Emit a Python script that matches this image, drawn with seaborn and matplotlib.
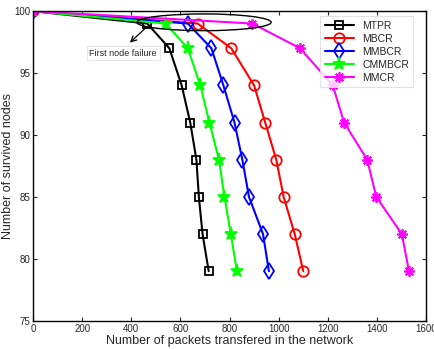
import matplotlib
matplotlib.use("Agg")
import matplotlib.pyplot as plt
from matplotlib.patches import Ellipse
import seaborn as sns
import pandas as pd

survived = [100, 99, 97, 94, 91, 88, 85, 82, 79]
mtpr = [0, 465, 555, 605, 640, 665, 675, 690, 715]
mbcr = [0, 670, 807, 900, 945, 990, 1020, 1065, 1100]
mmbcr = [0, 630, 726, 775, 820, 852, 879, 936, 960]
cmmbcr = [0, 540, 630, 681, 718, 757, 779, 805, 830]
mmcr = [0, 893, 1087, 1220, 1266, 1360, 1397, 1501, 1530]
series_names = ["MTPR", "MBCR", "MMBCR", "CMMBCR", "MMCR"]
series_vals = [mtpr, mbcr, mmbcr, cmmbcr, mmcr]
x_ticks = [0, 200, 400, 600, 800, 1000, 1200, 1400, 1600]
y_ticks = [75, 80, 85, 90, 95, 100]

sns.set_style("ticks")
plt.rcParams['font.family'] = ['Liberation Sans', 'DejaVu Sans']

fig = plt.figure(figsize=(4.34, 3.49), dpi=100)
ax = fig.add_axes([0.076, 0.081, 0.906, 0.887])

styles = {
    "MTPR": dict(color="black", marker="s", mfc="none", ms=5.5),
    "MBCR": dict(color="red", marker="o", mfc="none", ms=7.5),
    "MMBCR": dict(color="blue", marker="d", mfc="none", ms=8),
    "CMMBCR": dict(color="#00ff00", marker="*", mfc="#00ff00", ms=9.5),
    "MMCR": dict(color="magenta", marker=(8, 2, 0), mfc="none", ms=7.5),
}

for name, vals in zip(series_names, series_vals):
    df = pd.DataFrame({"x": vals, "y": survived})
    st = styles[name]
    sns.lineplot(data=df, x="x", y="y", ax=ax, sort=False, color=st["color"],
                 marker=st["marker"], markersize=st["ms"], markerfacecolor=st["mfc"],
                 markeredgecolor=st["color"], markeredgewidth=1.3, linewidth=1.5,
                 label=name)

ax.set_xlim(0, 1600)
ax.set_ylim(75, 100)
ax.set_xticks(x_ticks)
ax.set_yticks(y_ticks)
ax.tick_params(direction="in", top=True, right=True, labelsize=7, length=3, width=0.8, pad=2)
for sp in ax.spines.values():
    sp.set_visible(True)
    sp.set_linewidth(1.0)
    sp.set_color("black")
ax.set_xlabel("Number of packets transfered in the network", fontsize=9, labelpad=1)
ax.set_ylabel("Number of survived nodes", fontsize=9, labelpad=0)

ell = Ellipse((696, 99.1), 546, 1.35, fill=False, edgecolor="black", linewidth=1.0, zorder=5)
ax.add_patch(ell)
ax.annotate("", xy=(386, 97.3), xytext=(472, 98.9),
            arrowprops=dict(arrowstyle="->", color="black", lw=0.9))
ax.text(367, 96.6, "First node failure", fontsize=6.5, ha="center", va="center",
        bbox=dict(boxstyle="square,pad=0.3", fc="white", ec="#e6e6e6", lw=0.8))

leg = ax.legend(loc="upper right", fontsize=7.5, frameon=True, fancybox=False,
                handlelength=2.8, borderpad=0.4, labelspacing=0.3,
                bbox_to_anchor=(0.98, 1.0))
leg.get_frame().set_edgecolor("#dddddd")
leg.get_frame().set_linewidth(0.8)

fig.savefig("out.png", dpi=100)
